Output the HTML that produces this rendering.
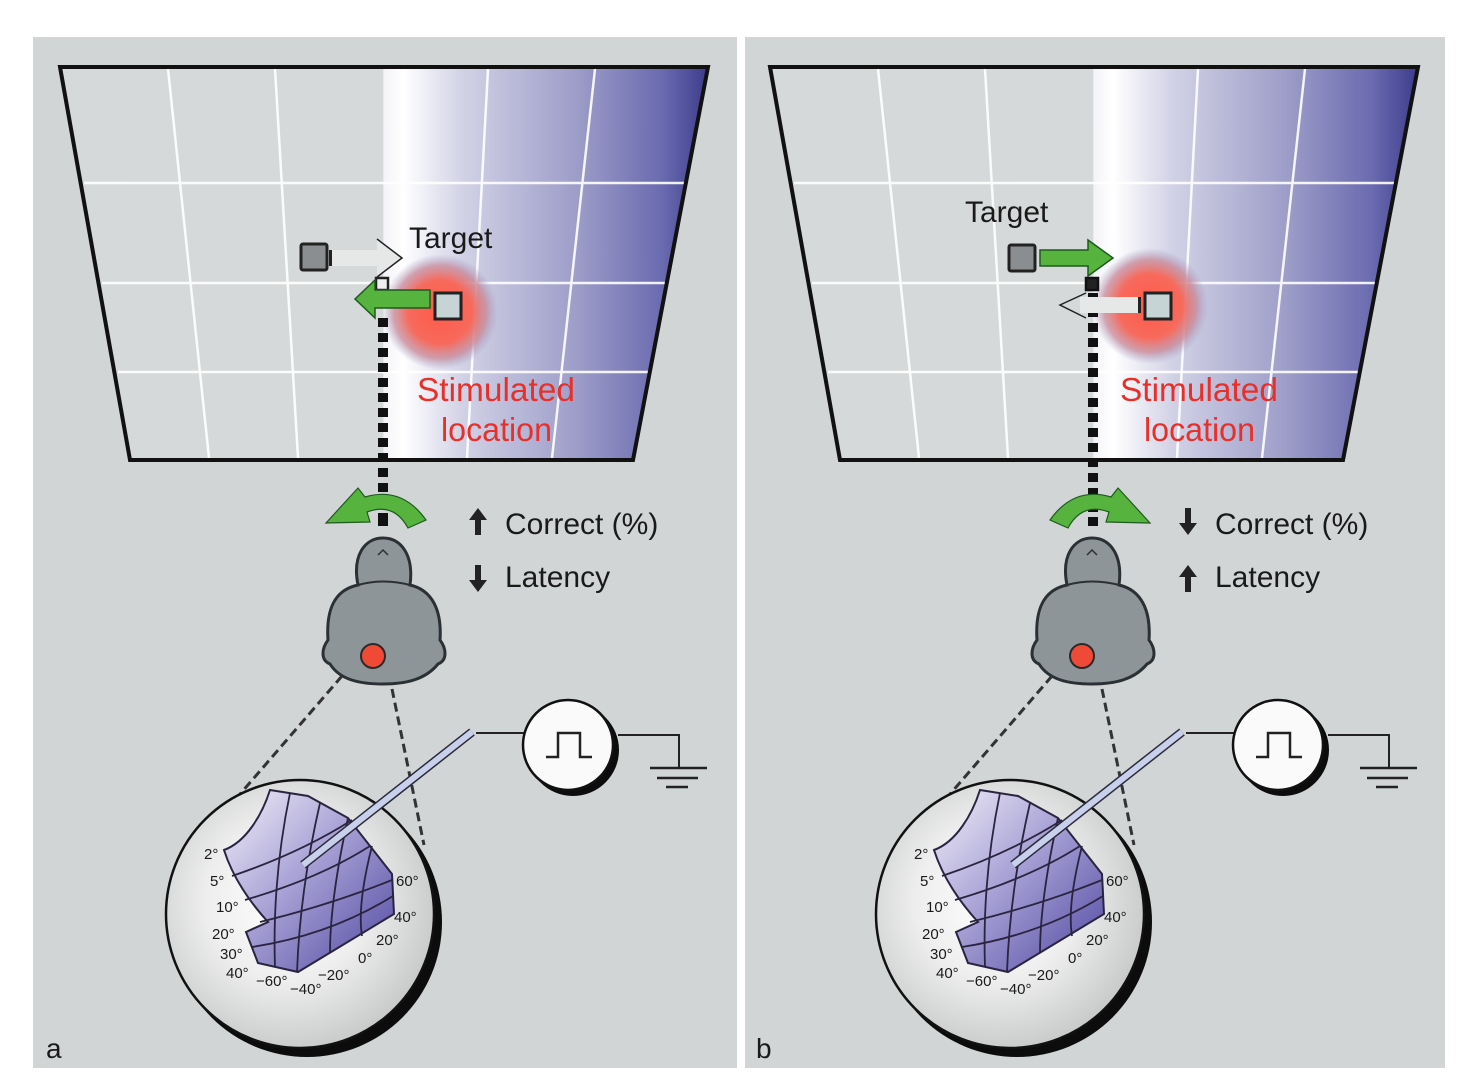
<!DOCTYPE html>
<html><head><meta charset="utf-8">
<style>
html,body{margin:0;padding:0;background:#fff;}
svg{display:block;font-family:"Liberation Sans",sans-serif;}
</style></head>
<body>
<svg width="1480" height="1092" viewBox="0 0 1480 1092" xmlns="http://www.w3.org/2000/svg">
<defs>
<linearGradient id="scr" x1="0" y1="0" x2="1" y2="0" gradientUnits="objectBoundingBox">
<stop offset="0" stop-color="#d6d9d9"/>
<stop offset="0.498" stop-color="#d6d9d9"/>
<stop offset="0.50" stop-color="#f4f4f8"/>
<stop offset="0.53" stop-color="#ffffff"/>
<stop offset="0.62" stop-color="#d2d2e6"/>
<stop offset="0.80" stop-color="#9c9cc8"/>
<stop offset="0.93" stop-color="#6a6ab0"/>
<stop offset="1" stop-color="#3c3c8c"/>
</linearGradient>
<radialGradient id="blob">
<stop offset="0" stop-color="#ff5a48"/>
<stop offset="0.55" stop-color="#f76a5c"/>
<stop offset="0.8" stop-color="#c88a9a" stop-opacity="0.8"/>
<stop offset="1" stop-color="#a0a0c8" stop-opacity="0"/>
</radialGradient>
<radialGradient id="sph" cx="0.45" cy="0.45" r="0.6">
<stop offset="0" stop-color="#ffffff"/>
<stop offset="0.5" stop-color="#eeeeee"/>
<stop offset="1" stop-color="#c4c6c6"/>
</radialGradient>
<linearGradient id="patch" x1="0" y1="0" x2="1" y2="1">
<stop offset="0" stop-color="#f2f0f8"/>
<stop offset="0.45" stop-color="#a8a2d6"/>
<stop offset="1" stop-color="#5048a0"/>
</linearGradient>
</defs>

<rect x="33" y="37" width="704" height="1031" fill="#d1d5d5"/>
<rect x="745" y="37" width="700" height="1031" fill="#d1d5d5"/>

<!-- ================= PANEL A ================= -->
<g>
<polygon points="60,67 708,67 633,460 130,460" fill="url(#scr)"/>
<g stroke="#ffffff" stroke-width="2.5" fill="none" opacity="0.9">
<line x1="168" y1="69" x2="209" y2="458"/>
<line x1="275" y1="69" x2="298" y2="458"/>
<line x1="488" y1="69" x2="467" y2="458"/>
<line x1="595" y1="69" x2="552" y2="458"/>
<line x1="84" y1="183" x2="686" y2="183"/>
<line x1="102" y1="283" x2="668" y2="283"/>
<line x1="118" y1="372" x2="651" y2="372"/>
</g>
<polygon points="60,67 708,67 633,460 130,460" fill="none" stroke="#111" stroke-width="4"/>
<circle cx="440" cy="312" r="58" fill="url(#blob)"/>
<line x1="383" y1="318" x2="383" y2="520" stroke="#111" stroke-width="10" stroke-dasharray="9,6"/>
<rect x="301" y="244" width="26" height="26" fill="#8a8e90" stroke="#222" stroke-width="3" rx="2"/>
<rect x="330" y="250" width="54" height="16" fill="#e6e8e8"/>
<rect x="329" y="250" width="3" height="16" fill="#222"/>
<polyline points="377,239 402,258 377,277" fill="#e6e8e8" stroke="#222" stroke-width="1.5"/>
<rect x="376" y="278" width="12" height="12" fill="#eee" stroke="#222" stroke-width="2.5"/>
<rect x="435" y="293" width="26" height="26" fill="#c6d4d6" stroke="#222" stroke-width="3"/>
<polygon points="430,290 375,290 375,280 355,299 375,318 375,308 430,308" fill="#56b33d" stroke="#1e5a1e" stroke-width="1.5"/>
<text x="409" y="248" font-size="30" fill="#1a1a1a">Target</text>
<text x="417" y="401" font-size="33" fill="#e8302a" textLength="158" lengthAdjust="spacingAndGlyphs">Stimulated</text>
<text x="441" y="441" font-size="33" fill="#e8302a" textLength="111" lengthAdjust="spacingAndGlyphs">location</text>

<path d="M426,520 Q402,486 365,497 L358,488 L326,523 L370,522 L367,512 Q394,502 408,528 Z" fill="#56b33d" stroke="#1e5a1e" stroke-width="1.2"/>
<rect x="378" y="517" width="10" height="9" fill="#111"/>
<polygon points="478,508 469,520 475,520 475,535 481,535 481,520 487,520" fill="#222"/>
<polygon points="478,592 469,580 475,580 475,565 481,565 481,580 487,580" fill="#222"/>
<text x="505" y="534" font-size="30" fill="#1a1a1a">Correct (%)</text>
<text x="505" y="587" font-size="30" fill="#1a1a1a">Latency</text>

<path d="M358,585 C352,555 365,538 383,538 C401,538 414,555 410,585 C432,590 442,610 440,640 C446,648 448,660 438,664 C425,680 405,684 383,684 C360,684 340,680 330,664 C320,660 322,648 328,640 C326,610 334,590 358,585 Z" fill="#8e9599" stroke="#2a3034" stroke-width="3"/>
<path d="M358,585 Q383,578 410,585" fill="none" stroke="#2a3034" stroke-width="2"/>
<path d="M378,555 L383,550 L388,555" fill="none" stroke="#2a3034" stroke-width="1.5"/>
<circle cx="373" cy="656" r="12" fill="#ee4a36" stroke="#2a2a2a" stroke-width="2"/>

<line x1="342" y1="676" x2="222" y2="815" stroke="#333" stroke-width="3" stroke-dasharray="9,5"/>
<line x1="392" y1="689" x2="424" y2="845" stroke="#333" stroke-width="3" stroke-dasharray="9,5"/>

<circle cx="307" cy="922" r="135" fill="#0c0c0c"/>
<circle cx="300" cy="914" r="134" fill="url(#sph)" stroke="#111" stroke-width="2.5"/>
<path d="M224,850 C246,842 262,815 270,790 L308,796 L348,818 L392,874 L394,914 L298,972 L258,963 L246,932 L268,922 C248,900 232,875 224,850 Z" fill="url(#patch)" stroke="#2a2440" stroke-width="2"/>
<g fill="none" stroke="#2a2440" stroke-width="1.8">
<path d="M232,876 Q300,853 352,820"/>
<path d="M245,900 Q320,878 370,846"/>
<path d="M260,922 Q330,905 392,880"/>
<path d="M252,947 Q330,935 393,896"/>
<path d="M290,793 Q272,880 275,967"/>
<path d="M320,803 Q300,890 297,972"/>
<path d="M348,818 Q330,900 330,953"/>
<path d="M372,846 Q357,905 362,936"/>
</g>
<line x1="303" y1="865" x2="472" y2="732" stroke="#2a2a3a" stroke-width="9"/>
<line x1="303" y1="865" x2="472" y2="732" stroke="#c8d0ec" stroke-width="6"/>
<line x1="476" y1="733" x2="524" y2="733" stroke="#222" stroke-width="2"/>
<circle cx="573" cy="750" r="46" fill="#0c0c0c"/>
<circle cx="568" cy="745" r="45" fill="#fafafa" stroke="#111" stroke-width="2.5"/>
<polyline points="546,757 558,757 558,733 580,733 580,757 592,757" fill="none" stroke="#222" stroke-width="2.5"/>
<polyline points="618,735 679,735 679,768" fill="none" stroke="#222" stroke-width="2"/>
<line x1="650" y1="768" x2="707" y2="768" stroke="#222" stroke-width="2.5"/>
<line x1="657" y1="778" x2="698" y2="778" stroke="#222" stroke-width="2.5"/>
<line x1="666" y1="787" x2="688" y2="787" stroke="#222" stroke-width="2.5"/>
<g font-size="15" fill="#1a1a1a">
<text x="204" y="859">2°</text><text x="210" y="886">5°</text><text x="216" y="912">10°</text>
<text x="212" y="939">20°</text><text x="220" y="959">30°</text><text x="226" y="978">40°</text>
<text x="256" y="986">−60°</text><text x="290" y="994">−40°</text><text x="318" y="980">−20°</text>
<text x="358" y="963">0°</text><text x="376" y="945">20°</text><text x="394" y="922">40°</text><text x="396" y="886">60°</text>
</g>
<text x="46" y="1058" font-size="28" fill="#1a1a1a">a</text>
</g>

<!-- ================= PANEL B ================= -->
<g transform="translate(710,0)">
<polygon points="60,67 708,67 633,460 130,460" fill="url(#scr)"/>
<g stroke="#ffffff" stroke-width="2.5" fill="none" opacity="0.9">
<line x1="168" y1="69" x2="209" y2="458"/>
<line x1="275" y1="69" x2="298" y2="458"/>
<line x1="488" y1="69" x2="467" y2="458"/>
<line x1="595" y1="69" x2="552" y2="458"/>
<line x1="84" y1="183" x2="686" y2="183"/>
<line x1="102" y1="283" x2="668" y2="283"/>
<line x1="118" y1="372" x2="651" y2="372"/>
</g>
<polygon points="60,67 708,67 633,460 130,460" fill="none" stroke="#111" stroke-width="4"/>
<circle cx="440" cy="306" r="58" fill="url(#blob)"/>
<line x1="383" y1="293" x2="383" y2="520" stroke="#111" stroke-width="10" stroke-dasharray="9,6"/>
<rect x="299" y="245" width="26" height="26" fill="#8a8e90" stroke="#222" stroke-width="3" rx="2"/>
<polygon points="330,250 378,250 378,240 403,258 378,276 378,266 330,266" fill="#56b33d" stroke="#1e5a1e" stroke-width="1.5"/>
<rect x="376" y="278" width="12" height="12" fill="#222" stroke="#111" stroke-width="2.5"/>
<rect x="370" y="297" width="60" height="16" fill="#e6e8e8"/>
<rect x="428" y="297" width="3" height="16" fill="#222"/>
<polyline points="376,293 350,305 376,318" fill="none" stroke="#222" stroke-width="1.5"/>
<rect x="435" y="293" width="26" height="26" fill="#c6d4d6" stroke="#222" stroke-width="3"/>
<text x="255" y="222" font-size="30" fill="#1a1a1a">Target</text>
<text x="410" y="401" font-size="33" fill="#e8302a" textLength="158" lengthAdjust="spacingAndGlyphs">Stimulated</text>
<text x="434" y="441" font-size="33" fill="#e8302a" textLength="111" lengthAdjust="spacingAndGlyphs">location</text>

<path d="M340,520 Q364,486 401,497 L408,488 L440,523 L396,522 L399,512 Q372,502 358,528 Z" fill="#56b33d" stroke="#1e5a1e" stroke-width="1.2"/>
<rect x="378" y="517" width="10" height="9" fill="#111"/>
<polygon points="478,535 469,523 475,523 475,508 481,508 481,523 487,523" fill="#222"/>
<polygon points="478,565 469,577 475,577 475,592 481,592 481,577 487,577" fill="#222"/>
<text x="505" y="534" font-size="30" fill="#1a1a1a">Correct (%)</text>
<text x="505" y="587" font-size="30" fill="#1a1a1a">Latency</text>

<g transform="translate(-1,0)">
<path d="M358,585 C352,555 365,538 383,538 C401,538 414,555 410,585 C432,590 442,610 440,640 C446,648 448,660 438,664 C425,680 405,684 383,684 C360,684 340,680 330,664 C320,660 322,648 328,640 C326,610 334,590 358,585 Z" fill="#8e9599" stroke="#2a3034" stroke-width="3"/>
<path d="M358,585 Q383,578 410,585" fill="none" stroke="#2a3034" stroke-width="2"/>
<path d="M378,555 L383,550 L388,555" fill="none" stroke="#2a3034" stroke-width="1.5"/>
<circle cx="373" cy="656" r="12" fill="#ee4a36" stroke="#2a2a2a" stroke-width="2"/>
</g>

<line x1="342" y1="676" x2="222" y2="815" stroke="#333" stroke-width="3" stroke-dasharray="9,5"/>
<line x1="392" y1="689" x2="424" y2="845" stroke="#333" stroke-width="3" stroke-dasharray="9,5"/>

<circle cx="307" cy="922" r="135" fill="#0c0c0c"/>
<circle cx="300" cy="914" r="134" fill="url(#sph)" stroke="#111" stroke-width="2.5"/>
<path d="M224,850 C246,842 262,815 270,790 L308,796 L348,818 L392,874 L394,914 L298,972 L258,963 L246,932 L268,922 C248,900 232,875 224,850 Z" fill="url(#patch)" stroke="#2a2440" stroke-width="2"/>
<g fill="none" stroke="#2a2440" stroke-width="1.8">
<path d="M232,876 Q300,853 352,820"/>
<path d="M245,900 Q320,878 370,846"/>
<path d="M260,922 Q330,905 392,880"/>
<path d="M252,947 Q330,935 393,896"/>
<path d="M290,793 Q272,880 275,967"/>
<path d="M320,803 Q300,890 297,972"/>
<path d="M348,818 Q330,900 330,953"/>
<path d="M372,846 Q357,905 362,936"/>
</g>
<line x1="303" y1="865" x2="472" y2="732" stroke="#2a2a3a" stroke-width="9"/>
<line x1="303" y1="865" x2="472" y2="732" stroke="#c8d0ec" stroke-width="6"/>
<line x1="476" y1="733" x2="524" y2="733" stroke="#222" stroke-width="2"/>
<circle cx="573" cy="750" r="46" fill="#0c0c0c"/>
<circle cx="568" cy="745" r="45" fill="#fafafa" stroke="#111" stroke-width="2.5"/>
<polyline points="546,757 558,757 558,733 580,733 580,757 592,757" fill="none" stroke="#222" stroke-width="2.5"/>
<polyline points="618,735 679,735 679,768" fill="none" stroke="#222" stroke-width="2"/>
<line x1="650" y1="768" x2="707" y2="768" stroke="#222" stroke-width="2.5"/>
<line x1="657" y1="778" x2="698" y2="778" stroke="#222" stroke-width="2.5"/>
<line x1="666" y1="787" x2="688" y2="787" stroke="#222" stroke-width="2.5"/>
<g font-size="15" fill="#1a1a1a">
<text x="204" y="859">2°</text><text x="210" y="886">5°</text><text x="216" y="912">10°</text>
<text x="212" y="939">20°</text><text x="220" y="959">30°</text><text x="226" y="978">40°</text>
<text x="256" y="986">−60°</text><text x="290" y="994">−40°</text><text x="318" y="980">−20°</text>
<text x="358" y="963">0°</text><text x="376" y="945">20°</text><text x="394" y="922">40°</text><text x="396" y="886">60°</text>
</g>
<text x="46" y="1058" font-size="28" fill="#1a1a1a">b</text>
</g>
</svg>
</body></html>
